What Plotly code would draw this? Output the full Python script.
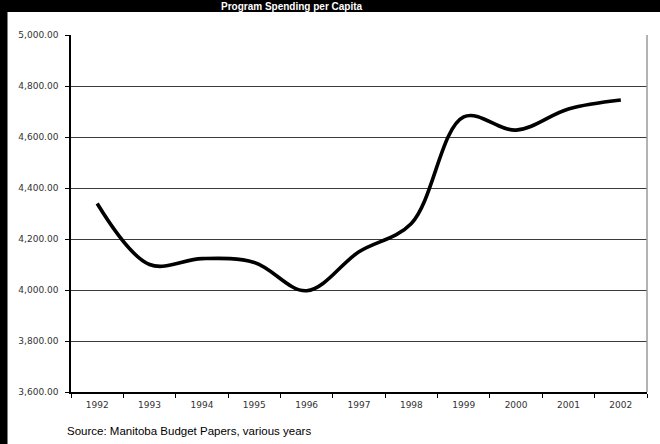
import plotly.graph_objects as go

# Annual program spending per capita
years = ["1992", "1993", "1994", "1995", "1996", "1997",
         "1998", "1999", "2000", "2001", "2002"]
spending = [4339, 4100, 4123, 4108, 3997, 4150,
            4261, 4679, 4627, 4710, 4745]

y_ticks = [3600, 3800, 4000, 4200, 4400, 4600, 4800, 5000]

W, H = 660, 444
L, R, T, B = 71, 13, 35, 52
PW, PH = W - L - R, H - T - B


def px_x(x):
    return (x - L) / PW


def px_y(y):
    return 1 - (y - T) / PH


fig = go.Figure()
fig.add_trace(go.Scatter(
    x=years, y=spending, mode="lines",
    line=dict(color="black", width=3.6, shape="spline", smoothing=1),
    hoverinfo="x+y", showlegend=False,
))

tick_font = dict(family="DejaVu Sans", size=9, color="#333333")

fig.update_layout(
    width=W, height=H,
    margin=dict(l=L, r=R, t=T, b=B, pad=0),
    paper_bgcolor="white", plot_bgcolor="white",
    xaxis=dict(
        type="category", tickson="boundaries",
        ticks="outside", ticklen=4, tickwidth=1, tickcolor="black",
        showline=True, linecolor="black", linewidth=1.5,
        showgrid=False, zeroline=False,
        tickfont=tick_font, range=[-0.5, 10.5], ticklabelstandoff=3,
    ),
    yaxis=dict(
        range=[3600, 5000], tickvals=y_ticks, tickformat=",.2f",
        ticks="outside", ticklen=4, tickwidth=1, tickcolor="black",
        showline=True, linecolor="black", linewidth=1.5,
        showgrid=True, gridcolor="#3a3a3a", gridwidth=1,
        zeroline=False, tickfont=tick_font, ticklabelstandoff=5,
    ),
    shapes=[
        # right edge of plot frame
        dict(type="line", xref="paper", yref="paper", x0=1, x1=1, y0=0, y1=1,
             line=dict(color="#9a9a9a", width=1.5)),
        # black header band
        dict(type="rect", xref="paper", yref="paper",
             x0=px_x(0), x1=px_x(W), y0=px_y(12), y1=px_y(0),
             fillcolor="black", line=dict(width=0), layer="below"),
        # black left bar
        dict(type="rect", xref="paper", yref="paper",
             x0=px_x(0), x1=px_x(7.5), y0=px_y(H), y1=px_y(0),
             fillcolor="black", line=dict(width=0), layer="below"),
    ],
    annotations=[
        # chart heading inside the black band
        dict(text="<b>Program Spending per Capita</b>",
             xref="paper", yref="paper", x=px_x(292), y=px_y(0),
             xanchor="center", yanchor="top", borderpad=0, showarrow=False,
             font=dict(family="Liberation Sans", size=10, color="white")),
        dict(text="Source: Manitoba Budget Papers, various years",
             xref="paper", yref="paper", x=px_x(65), y=px_y(431),
             xanchor="left", yanchor="middle", showarrow=False,
             font=dict(family="Liberation Sans", size=11.5, color="black")),
    ],
)

fig.write_html("out.html", config={"displayModeBar": False})
